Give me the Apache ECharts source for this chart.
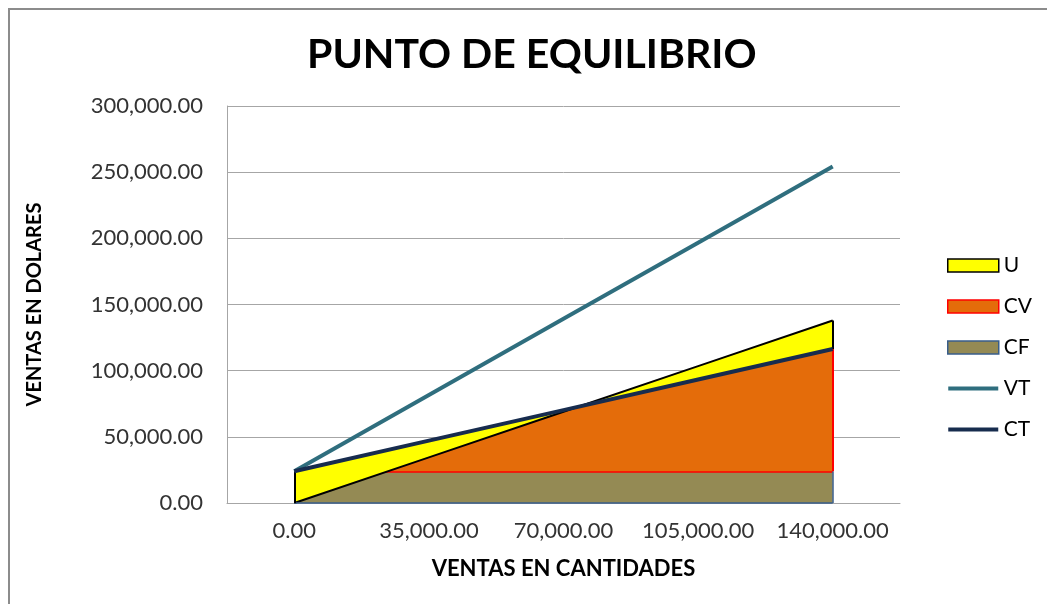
<!DOCTYPE html>
<html>
<head>
<meta charset="utf-8">
<title>Punto de equilibrio</title>
<script src="https://cdn.jsdelivr.net/npm/echarts@6/dist/echarts.min.js"></script>
<style>
  html, body { margin: 0; padding: 0; background: #fff; }
  #chart { width: 1047px; height: 604px; }
</style>
</head>
<body>
<div id="chart"></div>
<script>
// cantidades vendidas (eje x)
const cantidades = [0, 35000, 70000, 105000, 140000];
// costo fijo
const cf = [24000, 24000, 24000, 24000, 24000];
// costo variable
const cv = [0, 23100, 46200, 69300, 92400];
// costo total
const ct = [24000, 47100, 70200, 93300, 116400];
// ventas totales
const vt = [0, 34475, 68950, 103425, 137900];
// utilidad (ventas - costo total)
const u = [-24000, -12625, -1250, 10125, 21500];
// eje y
const yMin = 0, yMax = 300000, yStep = 50000;

const FONT = 'Lato';
function fmt(n) {
  return Number(n).toLocaleString('en-US', { minimumFractionDigits: 2, maximumFractionDigits: 2 });
}
const cats = cantidades.map(fmt);
const last = cats.length - 1;

const myChart = echarts.init(document.getElementById('chart'));
myChart.setOption({
  animation: false,
  backgroundColor: '#fff',
  textStyle: { fontFamily: FONT },
  graphic: [{
    type: 'rect', silent: true, z: -10,
    shape: { x: 9, y: 9, width: 1200, height: 800 },
    style: { fill: 'none', stroke: '#8c8c8c', lineWidth: 2 }
  }],
  title: {
    text: 'PUNTO DE EQUILIBRIO',
    left: 302,
    top: 29,
    textStyle: { fontFamily: FONT, fontSize: 41, fontWeight: 'bold', color: '#000' }
  },
  legend: {
    orient: 'vertical',
    left: 942,
    top: 250,
    itemWidth: 51,
    itemHeight: 13,
    itemGap: 20,
    textStyle: { fontFamily: FONT, fontSize: 21, lineHeight: 20, color: '#000' },
    data: [
      { name: 'U', icon: 'rect', itemStyle: { color: '#FFFF00', borderColor: '#000', borderWidth: 1.5 } },
      { name: 'CV', icon: 'rect', itemStyle: { color: '#E46C0A', borderColor: '#FF0000', borderWidth: 1.5 } },
      { name: 'CF', icon: 'rect', itemStyle: { color: '#948A54', borderColor: '#385D8A', borderWidth: 1.5 } },
      { name: 'VT', icon: 'path://M0,0M0,4.5H50V8.5H0ZM50,13', itemStyle: { color: '#2F6E7E', borderWidth: 0 } },
      { name: 'CT', icon: 'path://M0,0M0,4.5H50V8.5H0ZM50,13', itemStyle: { color: '#172C4E', borderWidth: 0 } }
    ]
  },
  grid: { left: 227, right: 147, top: 106, bottom: 101 },
  xAxis: {
    type: 'category',
    data: cats,
    boundaryGap: true,
    name: 'VENTAS EN CANTIDADES',
    nameLocation: 'middle',
    nameGap: 55,
    nameTextStyle: { fontFamily: FONT, fontSize: 22, fontWeight: 'bold', color: '#000' },
    axisLine: { lineStyle: { color: '#a6a6a6', width: 1 } },
    axisTick: { show: false },
    axisLabel: { interval: 0, margin: 17, fontSize: 22, color: '#333', fontFamily: FONT }
  },
  yAxis: {
    type: 'value',
    min: yMin,
    max: yMax,
    interval: yStep,
    name: 'VENTAS EN DOLARES',
    nameLocation: 'middle',
    nameGap: 182,
    nameTextStyle: { fontFamily: FONT, fontSize: 20, fontWeight: 'bold', color: '#000' },
    axisLine: { show: true, lineStyle: { color: '#a6a6a6', width: 1 } },
    axisTick: { show: false },
    splitLine: { lineStyle: { color: '#a6a6a6', width: 1 } },
    axisLabel: { margin: 24, fontSize: 22, color: '#333', fontFamily: FONT, formatter: fmt }
  },
  series: [
    {
      name: 'CF', type: 'line', stack: 'area', stackStrategy: 'all', data: cf,
      symbol: 'none', z: 2,
      lineStyle: { color: '#FF0000', width: 3 },
      areaStyle: { color: '#948A54', opacity: 1 },
      markLine: {
        silent: true, symbol: 'none', label: { show: false },
        lineStyle: { color: '#385D8A', width: 1.5, type: 'solid' },
        data: [
          [{ coord: [cats[last], 0] }, { coord: [cats[last], cf[last]] }],
          [{ coord: [cats[0], 0] }, { coord: [cats[last], 0] }]
        ]
      }
    },
    {
      name: 'CV', type: 'line', stack: 'area', stackStrategy: 'all', data: cv,
      symbol: 'none', z: 3,
      lineStyle: { color: '#FF0000', width: 2 },
      areaStyle: { color: '#E46C0A', opacity: 1 },
      markLine: {
        silent: true, symbol: 'none', label: { show: false },
        lineStyle: { color: '#FF0000', width: 2, type: 'solid' },
        data: [
          [{ coord: [cats[last], cf[last]] }, { coord: [cats[last], ct[last]] }]
        ]
      }
    },
    {
      name: 'U', type: 'line', stack: 'area', stackStrategy: 'all', data: u,
      symbol: 'none', z: 4,
      lineStyle: { color: '#000', width: 2 },
      areaStyle: { color: '#FFFF00', opacity: 1 },
      markLine: {
        silent: true, symbol: 'none', label: { show: false },
        lineStyle: { color: '#000', width: 2, type: 'solid' },
        data: [
          [{ coord: [cats[0], vt[0]] }, { coord: [cats[0], ct[0]] }],
          [{ coord: [cats[last], ct[last]] }, { coord: [cats[last], vt[last]] }]
        ]
      }
    },
    {
      name: 'CT', type: 'line', stack: 'lineas', data: ct,
      symbol: 'none', z: 6,
      lineStyle: { color: '#172C4E', width: 4 }
    },
    {
      name: 'VT', type: 'line', stack: 'lineas', data: vt,
      symbol: 'none', z: 5,
      lineStyle: { color: '#2F6E7E', width: 4 }
    }
  ]
});
</script>
</body>
</html>
